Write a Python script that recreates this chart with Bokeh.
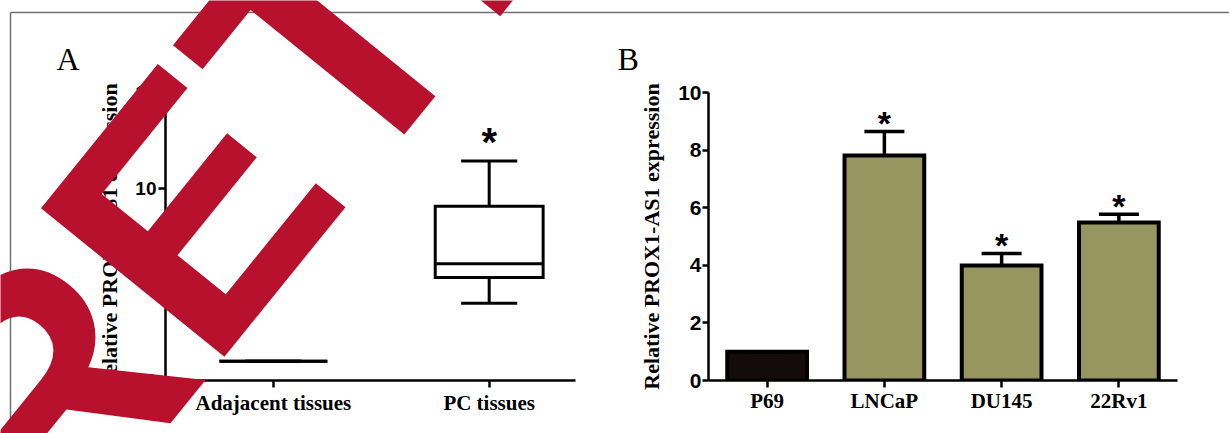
import math
from bokeh.plotting import figure
from bokeh.models import (ColumnDataSource, FactorRange, Range1d, FixedTicker,
                          Whisker, TeeHead, GridBox)
from bokeh.layouts import row
from bokeh.embed import file_html
from bokeh.resources import INLINE
from bokeh.core.properties import value

# ---------------- data ----------------
# Panel A (box plot)
a_groups = ["Adajacent tissues", "PC tissues"]
a_pos = [1, 2]
a_min = [1.0, 4.02]
a_q1 = [1.0, 5.36]
a_med = [1.0, 6.08]
a_q3 = [1.0, 9.07]
a_max = [1.0, 11.43]
a_star = ["", "*"]
a_yticks = [0, 5, 10, 15]

# Panel B (bar chart)
b_cells = ["P69", "LNCaP", "DU145", "22Rv1"]
b_mean = [1.0, 7.81, 3.99, 5.49]
b_err = [0.0, 0.84, 0.42, 0.28]
b_colors = ["#140c0c", "#979660", "#979660", "#979660"]
b_star = ["", "*", "*", "*"]
b_yticks = [0, 2, 4, 6, 8, 10]

ylabel = "Relative PROX1-AS1 expression"
panel_letters = ["A", "B"]
watermark = "RETRACTED"

SERIF = "Liberation Serif"
SANS = "Liberation Sans"
RED = "#B8112D"
W, H = 1229, 433
MID = 0.3465   # distance (in em) between the alphabetic baseline and the "middle" line


def style(p):
    p.xgrid.visible = False
    p.ygrid.visible = False
    p.outline_line_color = None
    p.background_fill_color = "white"
    p.border_fill_color = "white"
    for ax in p.axis:
        ax.axis_line_width = 2.5
        ax.axis_line_color = "black"
        ax.major_tick_line_width = 2.5
        ax.major_tick_line_color = "black"
        ax.major_tick_in = 0
        ax.major_tick_out = 7
        ax.minor_tick_in = 0
        ax.minor_tick_out = 0
        ax.major_label_text_color = "black"
        ax.axis_label_text_color = "black"


# ---------------- Panel A ----------------
pA = figure(width=610, height=H, x_range=Range1d(0.5, 2.4), y_range=Range1d(0, 15),
            output_backend="svg", toolbar_location=None,
            min_border_left=165, min_border_right=35, min_border_top=91, min_border_bottom=52)
style(pA)
pA.xaxis.ticker = FixedTicker(ticks=a_pos)
pA.xaxis.major_label_overrides = {pos: g for pos, g in zip(a_pos, a_groups)}
pA.xaxis.major_label_text_font = SERIF
pA.xaxis.major_label_text_font_style = "bold"
pA.xaxis.major_label_text_font_size = "21px"
pA.xaxis.major_label_standoff = 3
pA.yaxis.ticker = FixedTicker(ticks=a_yticks)
pA.yaxis.major_label_text_font = SANS
pA.yaxis.major_label_text_font_style = "bold"
pA.yaxis.major_label_text_font_size = "19px"
pA.yaxis.major_label_standoff = 2
pA.yaxis.axis_label = ylabel
pA.yaxis.axis_label_text_font = SERIF
pA.yaxis.axis_label_text_font_style = "bold"
pA.yaxis.axis_label_text_font_size = "22px"
pA.yaxis.axis_label_standoff = 10

box_half = 0.25
cap_half = 0.13
srcA = ColumnDataSource(dict(
    x=a_pos, lo=a_min, q1=a_q1, med=a_med, q3=a_q3, hi=a_max, star=a_star,
    left=[v - box_half for v in a_pos], right=[v + box_half for v in a_pos],
    cl=[v - cap_half for v in a_pos], cr=[v + cap_half for v in a_pos]))
lw = 3
pA.segment(x0="x", y0="q3", x1="x", y1="hi", source=srcA, line_color="black", line_width=lw)
pA.segment(x0="x", y0="q1", x1="x", y1="lo", source=srcA, line_color="black", line_width=lw)
pA.segment(x0="cl", y0="hi", x1="cr", y1="hi", source=srcA, line_color="black", line_width=lw)
pA.segment(x0="cl", y0="lo", x1="cr", y1="lo", source=srcA, line_color="black", line_width=lw)
pA.quad(left="left", right="right", bottom="q1", top="q3", source=srcA, fill_color="white",
        line_color="black", line_width=lw, line_join="miter")
pA.segment(x0="left", y0="med", x1="right", y1="med", source=srcA, line_color="black", line_width=lw)
pA.text(x="x", y="hi", text="star", source=srcA, text_align="center", text_baseline="middle",
        y_offset=-19, text_font=value(SANS), text_font_style="bold", text_font_size="40px",
        text_color="black")

# ---------------- Panel B ----------------
pB = figure(width=W - 610, height=H, x_range=FactorRange(*b_cells), y_range=Range1d(0, 10),
            output_backend="svg", toolbar_location=None,
            min_border_left=98, min_border_right=52, min_border_top=92, min_border_bottom=53)
style(pB)
pB.xaxis.major_label_text_font = SERIF
pB.xaxis.major_label_text_font_style = "bold"
pB.xaxis.major_label_text_font_size = "21px"
pB.xaxis.major_label_standoff = 1
pB.xaxis.major_tick_out = 7
pB.yaxis.ticker = FixedTicker(ticks=b_yticks)
pB.yaxis.major_label_text_font = SANS
pB.yaxis.major_label_text_font_style = "bold"
pB.yaxis.major_label_text_font_size = "21px"
pB.yaxis.major_label_standoff = 1
pB.yaxis.major_tick_out = 6
pB.yaxis.axis_label = ylabel
pB.yaxis.axis_label_text_font = SERIF
pB.yaxis.axis_label_text_font_style = "bold"
pB.yaxis.axis_label_text_font_size = "22px"
pB.yaxis.axis_label_standoff = 11

srcB = ColumnDataSource(dict(
    x=b_cells, top=b_mean, color=b_colors, star=b_star,
    up=[m + e for m, e in zip(b_mean, b_err)]))
pB.vbar(x="x", top="top", width=0.68, source=srcB, fill_color="color", line_color="black",
        line_width=4, line_join="miter")
pB.add_layout(Whisker(base="x", lower="top", upper="up", source=srcB, line_color="black",
                      line_width=3.5, dimension="height",
                      upper_head=TeeHead(size=40, line_width=3.5, line_color="black"),
                      lower_head=None, level="glyph"))
pB.text(x="x", y="up", text="star", source=srcB, text_align="center", text_baseline="middle",
        y_offset=-8, text_font=value(SANS), text_font_style="bold", text_font_size="34px",
        text_color="black")

# ---------------- transparent overlay (frame border, panel letters, watermark) ----------------
pW = figure(width=W, height=H, x_range=Range1d(0, W), y_range=Range1d(0, H),
            output_backend="svg", toolbar_location=None,
            x_axis_location=None, y_axis_location=None,
            min_border_left=0, min_border_right=0, min_border_top=0, min_border_bottom=0)
if "frame_align" in pW.properties():
    pW.frame_align = False
pW.xgrid.visible = False
pW.ygrid.visible = False
pW.outline_line_color = None
pW.background_fill_alpha = 0
pW.border_fill_alpha = 0

# thin outer frame of the figure image (top and left edges)
pW.segment(x0=[10, 10], y0=[H - 12, H - 12], x1=[W, 10], y1=[H - 12, 0],
           line_color="#707070", line_width=1.5)

# panel letters (baseline at y=70 px from the top)
letter_size = 32
pW.text(x=[56, 617], y=[H - 70 + MID * letter_size] * 2, text=panel_letters,
        text_font=value(SERIF), text_font_size=f"{letter_size}px", text_align="left",
        text_baseline="middle", text_color="black")

# watermark, rotated by 51 degrees; the centre of its "E" lands where it lies in the source
theta = math.radians(51)
wm_size = 343
ux, uy = math.cos(theta), -math.sin(theta)       # baseline direction (page px, y down)
vx, vy = -math.sin(theta), -math.cos(theta)      # "up" direction of the letters
e_base_centre = (283, 283)                       # E centre projected on the baseline
e_from_start = 1.0635 * wm_size                  # R advance + half of E's glyph box
bx, by = e_base_centre[0] - e_from_start * ux, e_base_centre[1] - e_from_start * uy
ax_, ay_ = bx + MID * wm_size * vx, by + MID * wm_size * vy
pW.text(x=[ax_], y=[H - ay_], text=[watermark], angle=theta,
        text_font=value(SANS), text_font_style="bold",
        text_font_size=f"{wm_size}px", text_color=RED,
        text_align="left", text_baseline="middle")

charts = row(pA, pB)
layout = GridBox(children=[(charts, 0, 0), (pW, 0, 0)])

open("out.html", "w").write(file_html(layout, INLINE))
